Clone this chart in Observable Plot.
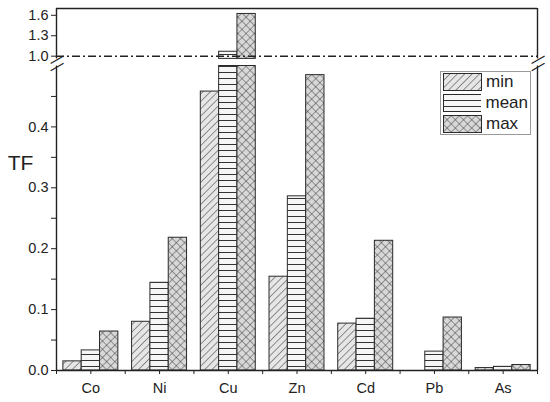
<!DOCTYPE html>
<html><head><meta charset="utf-8">
<script src="https://cdn.jsdelivr.net/npm/d3@7"></script>
<script src="https://cdn.jsdelivr.net/npm/@observablehq/plot@0.6"></script>
<style>
body{margin:0;background:#fff;font-family:"Liberation Sans",Arial,sans-serif;}
#wrap{position:relative;width:550px;height:402px;}
#wrap svg g[aria-label*="axis"] text{font-size:14.5px !important;font-family:"Liberation Sans",Arial,sans-serif !important;fill:#222;}
#legend{position:absolute;left:440px;top:71px;width:91px;height:64px;border:1px solid #9a9a9a;background:#fff;box-sizing:border-box;padding:1px 2px;display:flex;flex-direction:column;gap:3px;}
.row{display:flex;align-items:center;height:18px;}
.row span{font-size:17px;color:#222;margin-left:4px;line-height:18px;}
</style></head><body>
<svg width="0" height="0" style="position:absolute">
  <defs>
    <pattern id="p-min" patternUnits="userSpaceOnUse" width="5.2" height="5.2" patternTransform="rotate(45)">
      <rect width="5.2" height="5.2" fill="#e6e6e6"/>
      <line x1="0" y1="0" x2="0" y2="5.2" stroke="#333" stroke-width="1"/>
    </pattern>
    <pattern id="p-mean" patternUnits="userSpaceOnUse" width="6" height="6">
      <rect width="6" height="6" fill="#f6f6f6"/>
      <line x1="0" y1="0.5" x2="6" y2="0.5" stroke="#333" stroke-width="1"/>
    </pattern>
    <pattern id="p-max" patternUnits="userSpaceOnUse" width="5.8" height="5.8" patternTransform="rotate(45)">
      <rect width="5.8" height="5.8" fill="#d8d8d8"/>
      <line x1="0" y1="0" x2="0" y2="5.8" stroke="#333" stroke-width="0.9"/>
      <line x1="0" y1="0" x2="5.8" y2="0" stroke="#333" stroke-width="0.9"/>
    </pattern>
  </defs>
</svg>
<div id="wrap"><div id="legend"></div></div>
<script>
const categories = ["Co", "Ni", "Cu", "Zn", "Cd", "Pb", "As"];
const seriesNames = ["min", "mean", "max"];
const minVals  = [0.015, 0.080, 0.458, 0.154, 0.077, 0.000, 0.004];
const meanVals = [0.033, 0.144, 1.065, 0.286, 0.085, 0.031, 0.006];
const maxVals  = [0.064, 0.218, 1.620, 0.485, 0.213, 0.087, 0.009];
const yTickLabels = [0.0, 0.1, 0.2, 0.3, 0.4, 1.0, 1.3, 1.6];
const yMinorTicks = [0.05, 0.15, 0.25, 0.35, 0.45];
// broken axis: lower segment and upper segment
const lowerTop = 0.5, upperBottom = 0.96, upperTop = 1.7;

const seriesValues = [minVals, meanVals, maxVals];
const fills = {min: "url(#p-min)", mean: "url(#p-mean)", max: "url(#p-max)"};
const pad = 0.1, bw = (1 - 2 * pad) / 3;

const rows = categories.flatMap((c, i) => seriesNames.map((s, j) => ({
  cat: c, series: s, value: seriesValues[j][i], i, j
}))).filter(d => d.value > 0);

const lowerBars = rows.map(d => ({...d, top: Math.min(d.value, lowerTop)}));
const upperBars = rows.filter(d => d.value > upperBottom);

const xTicks = d3.range(0, categories.length + 0.01, 0.5);
const yTicks = [...yTickLabels, ...yMinorTicks];

const barOpts = {
  x1: d => d.i + pad + d.j * bw,
  x2: d => d.i + pad + (d.j + 1) * bw,
  fill: d => fills[d.series],
  stroke: "#2a2a2a",
  strokeWidth: 1
};

const chart = Plot.plot({
  width: 550,
  height: 402,
  marginLeft: 56,
  marginRight: 13,
  marginTop: 8,
  marginBottom: 32,
  style: {background: "#fff", fontFamily: "Liberation Sans, Arial, sans-serif", fontSize: "14px", color: "#222"},
  x: {
    type: "linear",
    domain: [0, categories.length],
    ticks: xTicks,
    tickFormat: v => Number.isInteger(v) ? "" : categories[Math.floor(v)],
    tickSize: 4,
    tickPadding: 8,
    label: null
  },
  y: {
    type: "linear",
    domain: [0, lowerTop, upperBottom, upperTop],
    range: [370, 65.5, 58.4, 8],
    ticks: yTicks,
    tickFormat: v => yTickLabels.includes(v) ? d3.format(".1f")(v) : "",
    tickSize: 5,
    tickPadding: 3,
    label: null
  },
  marks: [
    Plot.rect(lowerBars, {...barOpts, y1: 0, y2: "top"}),
    Plot.rect(upperBars, {...barOpts, y1: upperBottom, y2: "value"}),
    Plot.ruleY([0, upperTop], {stroke: "#222", strokeWidth: 1.4}),
    Plot.ruleX([0, categories.length], {y1: 0, y2: lowerTop, stroke: "#222", strokeWidth: 1.4}),
    Plot.ruleX([0, categories.length], {y1: upperBottom, y2: upperTop, stroke: "#222", strokeWidth: 1.4}),
    Plot.ruleY([1.0], {stroke: "#222", strokeWidth: 1.5, strokeDasharray: "8,3,2,3"}),
    Plot.text(["—", "—", "—", "—"], {
      x: [0, 0, categories.length, categories.length],
      y: [lowerTop, upperBottom, lowerTop, upperBottom],
      text: d => d, rotate: -30, fontSize: 15, fill: "#222", textAnchor: "middle"
    }),
    Plot.text(["TF"], {y: [0.34], frameAnchor: "left", dx: -36, fontSize: 21, fill: "#222", textAnchor: "middle", text: d => d})
  ]
});

document.getElementById("wrap").prepend(chart);

const legend = d3.select("#legend");
seriesNames.forEach(s => {
  const row = legend.append("div").attr("class", "row");
  const sw = row.append("svg").attr("width", 39).attr("height", 18);
  sw.append("rect").attr("x", 0.5).attr("y", 0.5).attr("width", 38).attr("height", 17)
    .attr("fill", fills[s]).attr("stroke", "#2a2a2a").attr("stroke-width", 1);
  row.append("span").text(s);
});
</script>
</body></html>
